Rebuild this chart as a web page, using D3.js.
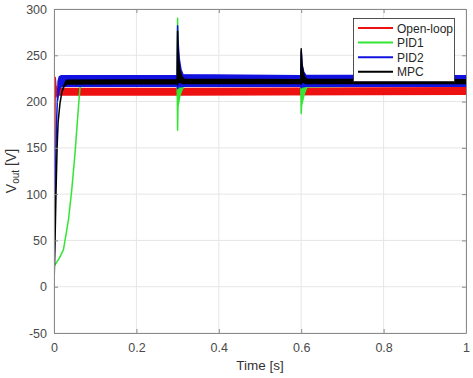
<!DOCTYPE html>
<html><head><meta charset="utf-8">
<script src="https://cdn.jsdelivr.net/npm/d3@7"></script>
<style>body{margin:0;background:#fff;}svg{display:block;font-family:"Liberation Sans",Arial,sans-serif;}</style>
</head><body><svg id="c" width="473" height="378"></svg>
<script>
// ---- data (envelopes: [time, low, high]) ----
const seriesNames = ["Open-loop", "PID1", "PID2", "MPC"];
const seriesColors = ["#ee1111", "#33e633", "#1212e0", "#000000"];
const xTicks = [0, 0.2, 0.4, 0.6, 0.8, 1];
const yTicks = [-50, 0, 50, 100, 150, 200, 250, 300];

const openLoop = [[0,0,0],[0.0015,120,120],[0.003,226,226],[0.0045,205,218],[0.006,207,214],[0.3,207,214],[1,208,215]];
const pid1 = [[0,22,22],[0.012,30,30],[0.023,40,40],[0.035,72,72],[0.043,104,104],[0.051,144,144],[0.057,180,180],[0.063,215,215],[0.068,218,222],
  [0.299,218,222],[0.3,169,290],[0.301,195,240],[0.303,200,236],[0.306,207,229],[0.31,212,224],[0.316,217,222],
  [0.599,218,222],[0.6,187,232],[0.601,196,234],[0.604,202,232],[0.608,209,226],[0.614,216,222],[1,218,222]];
const pid2 = [[0,0,0],[0.002,70,70],[0.004,130,130],[0.006,175,175],[0.008,200,200],[0.01,205,222],[0.013,213,227],[0.018,216.5,228],
  [0.299,216.5,228],[0.3,214,282],[0.301,216,266],[0.304,216,246],[0.308,216,235],[0.313,216.5,229],
  [0.599,216.5,228],[0.6,215,254],[0.602,216,240],[0.606,216,232],[0.611,216.5,228.5],[1,216.5,228]];
const mpc = [[0,0,0],[0.003,60,60],[0.005,104,104],[0.0075,150,150],[0.01,178,178],[0.0145,198,198],[0.019,210,210],[0.024,216,217],[0.03,219,223],
  [0.299,219.5,223.5],[0.3,218,276],[0.301,221,258],[0.303,221,243],[0.306,221,233],[0.31,220,227],[0.316,219.5,224],
  [0.599,219.5,223.5],[0.6,219,257],[0.602,221,240],[0.605,221,231],[0.609,220,226],[0.614,219.5,224],[1,219.5,223.5]];
const allSeries = [openLoop, pid1, pid2, mpc];

// ---- layout ----
const L = 54, R = 466, T = 9, B = 333;
const svg = d3.select("#c");
const x = d3.scaleLinear().domain([0, 1]).range([L, R]);
const y = d3.scaleLinear().domain([-50, 300]).range([B, T]);

// grid
const grid = svg.append("g");
grid.selectAll("line.gx").data(xTicks).join("line")
  .attr("x1", d => x(d)).attr("x2", d => x(d)).attr("y1", T).attr("y2", B)
  .attr("stroke", "#e6e6e6").attr("stroke-width", 1);
grid.selectAll("line.gy").data(yTicks).join("line")
  .attr("y1", d => y(d)).attr("y2", d => y(d)).attr("x1", L).attr("x2", R)
  .attr("stroke", "#e6e6e6").attr("stroke-width", 1);

// series
svg.append("defs").append("clipPath").attr("id", "clip")
  .append("rect").attr("x", L).attr("y", T).attr("width", R - L).attr("height", B - T);
const area = d3.area().x(d => x(d[0])).y0(d => y(d[1])).y1(d => y(d[2]));
const plot = svg.append("g").attr("clip-path", "url(#clip)");
allSeries.forEach((s, i) => {
  plot.append("path").datum(s).attr("d", area)
    .attr("fill", seriesColors[i]).attr("stroke", seriesColors[i])
    .attr("stroke-width", 1.5).attr("stroke-linejoin", "round");
});

// axes
const axisColor = "#8a8a8a", labelColor = "#4a4a4a";
const fmt = d => String(d);
const xAxis = svg.append("g").attr("transform", `translate(0,${B})`)
  .call(d3.axisBottom(x).tickValues(xTicks).tickFormat(fmt).tickSizeInner(-4).tickSizeOuter(0).tickPadding(10));
const yAxis = svg.append("g").attr("transform", `translate(${L},0)`)
  .call(d3.axisLeft(y).tickValues(yTicks).tickFormat(fmt).tickSizeInner(-4).tickSizeOuter(0).tickPadding(7));
const xAxisTop = svg.append("g").attr("transform", `translate(0,${T})`)
  .call(d3.axisTop(x).tickValues(xTicks).tickFormat("").tickSizeInner(-4).tickSizeOuter(0));
const yAxisRight = svg.append("g").attr("transform", `translate(${R},0)`)
  .call(d3.axisRight(y).tickValues(yTicks).tickFormat("").tickSizeInner(-4).tickSizeOuter(0));
[xAxis, yAxis, xAxisTop, yAxisRight].forEach(a => {
  a.select(".domain").attr("stroke", axisColor);
  a.selectAll(".tick line").attr("stroke", axisColor);
  a.selectAll(".tick text").attr("fill", labelColor).attr("font-size", 12.5)
    .attr("font-family", "'Liberation Sans',Arial,sans-serif");
});

// axis labels
svg.append("text").attr("x", (L + R) / 2).attr("y", 370).attr("text-anchor", "middle")
  .attr("fill", "#333").attr("font-size", 13.5).text("Time [s]");
const yl = svg.append("text").attr("transform", `translate(16,${(T + B) / 2}) rotate(-90)`)
  .attr("text-anchor", "middle").attr("fill", "#333").attr("font-size", 14);
yl.append("tspan").text("V");
yl.append("tspan").attr("font-size", 10).attr("dy", 3).text("out");
yl.append("tspan").attr("dy", -3).text(" [V]");

// legend
const lg = svg.append("g");
lg.append("rect").attr("x", 353.5).attr("y", 18.5).attr("width", 101).attr("height", 63)
  .attr("fill", "#fff").attr("stroke", "#262626").attr("stroke-width", 0.8);
seriesNames.forEach((n, i) => {
  const yy = 28 + i * 14.6;
  lg.append("line").attr("x1", 358).attr("x2", 393).attr("y1", yy).attr("y2", yy)
    .attr("stroke", seriesColors[i]).attr("stroke-width", 2);
  lg.append("text").attr("x", 397).attr("y", yy + 4.5).attr("fill", "#262626")
    .attr("font-size", 12).text(n);
});
</script></body></html>
